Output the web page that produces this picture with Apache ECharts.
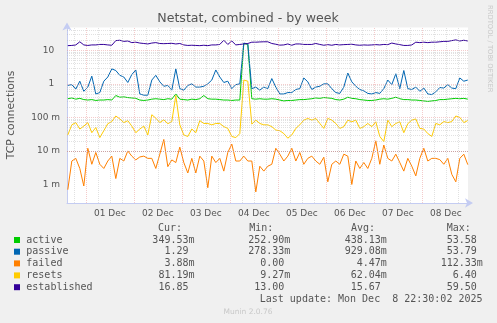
<!DOCTYPE html>
<html>
<head>
<meta charset="utf-8">
<script src="https://cdn.jsdelivr.net/npm/echarts@6/dist/echarts.min.js"></script>
<style>html,body{margin:0;padding:0;background:#f0f0f0;}#c{width:497px;height:323px;}</style>
</head>
<body>
<div id="c"></div>
<script>
// time grid: hours since 30 Nov 00:00, one sample every 2 hours
const startHour = 15;
const stepHours = 2;

const active = [0.36,0.38,0.35,0.37,0.34,0.33,0.34,0.32,0.33,0.33,0.34,0.33,0.45,0.4,0.41,0.39,0.38,
  0.37,0.33,0.32,0.33,0.35,0.36,0.35,0.34,0.36,0.35,0.5,0.35,0.34,0.33,0.35,0.34,0.36,
  0.45,0.36,0.35,0.35,0.34,0.33,0.33,0.32,0.33,0.33,16,15,0.36,0.35,0.36,0.35,0.35,
  0.36,0.35,0.33,0.31,0.32,0.32,0.33,0.34,0.34,0.35,0.36,0.38,0.37,0.39,0.38,0.37,
  0.34,0.33,0.35,0.4,0.37,0.36,0.34,0.33,0.32,0.32,0.33,0.35,0.36,0.35,0.37,0.4,0.36,
  0.34,0.34,0.33,0.33,0.32,0.31,0.3,0.31,0.32,0.34,0.34,0.35,0.36,0.37,0.36,0.37,0.35];
const passive = [0.9,0.95,0.7,1.2,0.6,0.8,1.7,0.5,0.55,1.2,1.6,2.8,2.5,1.8,1.6,1.1,1.9,
  2.6,0.5,0.46,0.46,1.3,1.8,1.15,0.85,0.9,0.65,2.8,0.72,0.65,0.9,1.0,0.8,0.8,
  0.85,1.0,1.3,2.6,1.6,1.1,1.2,0.72,0.95,1.0,16.5,15.5,0.72,0.8,0.65,0.8,0.72,
  1.44,0.8,0.5,0.5,0.55,0.55,0.68,0.72,1.5,1.15,0.68,0.8,0.85,1.0,1.0,0.72,
  0.55,0.52,0.8,2.1,1.15,0.85,0.68,0.62,0.52,0.5,0.55,0.52,0.72,1.3,0.95,2.0,0.72,
  2.5,0.72,0.68,0.8,0.6,0.75,0.5,0.48,0.58,0.78,0.75,0.95,0.75,0.72,1.5,1.2,1.3];
const failed = [0.0007,0.005,0.006,0.003,0.0009,0.012,0.004,0.009,0.004,0.003,0.005,0.007,0.0015,0.006,0.005,0.01,0.007,
  0.0054,0.0066,0.007,0.006,0.006,0.003,0.008,0.022,0.0034,0.0054,0.0045,0.013,0.0045,0.0022,0.006,0.0022,0.007,
  0.005,0.0008,0.007,0.0045,0.006,0.0025,0.009,0.016,0.005,0.005,0.007,0.005,0.005,0.0006,0.0035,0.0025,0.0035,
  0.004,0.012,0.008,0.005,0.007,0.012,0.005,0.009,0.004,0.006,0.007,0.005,0.004,0.0065,0.0012,0.004,
  0.005,0.004,0.008,0.007,0.001,0.005,0.003,0.0045,0.003,0.006,0.02,0.004,0.015,0.006,0.005,0.008,0.0045,
  0.0025,0.006,0.0035,0.0018,0.006,0.012,0.005,0.006,0.006,0.0055,0.004,0.006,0.002,0.0012,0.006,0.008,0.0039];
const resets = [0.03,0.06,0.07,0.045,0.055,0.07,0.035,0.05,0.025,0.04,0.065,0.075,0.11,0.09,0.07,0.08,0.055,
  0.035,0.045,0.055,0.03,0.12,0.095,0.07,0.085,0.065,0.075,0.45,0.06,0.03,0.027,0.045,0.035,0.08,
  0.066,0.066,0.06,0.066,0.066,0.053,0.047,0.027,0.025,0.033,1.3,1.2,0.063,0.083,0.066,0.06,0.06,
  0.053,0.042,0.04,0.033,0.024,0.03,0.047,0.06,0.083,0.093,0.083,0.093,0.066,0.047,0.093,0.083,
  0.066,0.047,0.053,0.083,0.074,0.083,0.047,0.053,0.066,0.053,0.074,0.027,0.019,0.083,0.053,0.066,0.074,
  0.035,0.065,0.083,0.09,0.047,0.045,0.033,0.027,0.066,0.06,0.075,0.07,0.075,0.11,0.1,0.07,0.081];
const established = [13.8,14,14.5,18,14.5,14,14.5,14.5,15,15,14.5,14.2,19.5,20,18.5,19,
  17,17.5,16.5,16,15.5,16.5,17,16,15.8,16,16.2,15.5,16,14.5,14,14.2,14,13.8,
  14.2,13.8,14.5,14.5,15,20,15,19,14.5,15,15.5,16,17.5,17.5,17.8,18,18,
  16,15.2,14.3,14.5,15.5,14.2,15.5,15.5,15,15,15,16,15,14.2,14.8,14.2,
  15,14.5,14.8,15,15.2,14.5,14.2,14.5,14.3,14.5,14.8,14.5,15,14.8,16.5,15.5,14.8,
  14,14,14.5,17.5,17,17.5,17,17.5,17.5,18,18.5,18.5,19.5,20.5,19,20,19];

const seriesNames = ['active','passive','failed','resets','established'];
const seriesColors = ['#00cc00','#0066b3','#ff8000','#ffcc00','#330099'];
const seriesData = [active, passive, failed, resets, established];

const dayLabels = ['01 Dec','02 Dec','03 Dec','04 Dec','05 Dec','06 Dec','07 Dec','08 Dec'];
const dayLabelHours = [36,60,84,108,132,156,180,204];
const yTickValues = [0.001,0.01,0.1,1,10];
const yTickLabels = ['1 m','10 m','100 m','1  ','10  '];

const statHeaders = ['Cur:','Min:','Avg:','Max:'];
const statCur = ['349.53m','1.29','3.88m','81.19m','16.85'];
const statMin = ['252.90m','278.33m','0.00','9.27m','13.00'];
const statAvg = ['438.13m','929.08m','4.47m','62.04m','15.67'];
const statMax = ['53.58','53.79','112.33m','6.40','59.50'];
const lastUpdate = 'Last update: Mon Dec  8 22:30:02 2025';

const xMin = 14.6, xMax = 215.1;
const yMin = 0.00028, yMax = 48;

// grid lines
const gridMajor = {color:'rgba(230,140,140,0.45)', width:1, type:[1,1]};
const gridMinor = {color:'rgba(175,175,175,0.38)', width:1, type:[1,1]};
const markData = [];
for (let h = 18; h < xMax; h += 6) {
  markData.push({xAxis: h, lineStyle: (h % 24 === 0) ? gridMajor : gridMinor});
}
for (let d = -4; d <= 1; d++) {
  for (let k = 1; k <= 9; k++) {
    const v = k * Math.pow(10, d);
    if (v > yMin && v < yMax) markData.push({yAxis: v, lineStyle: k === 1 ? gridMajor : gridMinor});
  }
}

const series = [{
  type:'line', data:[], z:1, silent:true,
  markLine:{silent:true, symbol:['none','none'], label:{show:false}, animation:false, data:markData}
}];
seriesData.forEach((arr, s) => {
  series.push({
    name: seriesNames[s], type:'line', z:2, showSymbol:false, silent:true, animation:false,
    lineStyle:{width:1, color:seriesColors[s]}, itemStyle:{color:seriesColors[s]},
    data: arr.map((v, i) => [startHour + i*stepHours, v])
  });
});

const txt = '#555';
const mono = '10px "DejaVu Sans Mono"';
const graphic = [];
graphic.push({type:'text', x:248, y:19, style:{text:'Netstat, combined - by week', font:'12.6px "DejaVu Sans"', fill:txt, align:'center', verticalAlign:'middle'}});
graphic.push({type:'text', x:11, y:115, rotation:Math.PI/2, style:{text:'TCP connections', font:'10.8px "DejaVu Sans"', fill:txt, align:'center', verticalAlign:'middle'}});
graphic.push({type:'text', x:490, y:5, rotation:-Math.PI/2, style:{text:'RRDTOOL / TOBI OETIKER', font:'6.8px "DejaVu Sans"', fill:'#c8c8c8', align:'left', verticalAlign:'middle'}});
const headerX = [158, 249.3, 351, 446.7];
statHeaders.forEach((h, i) => graphic.push({type:'text', x:headerX[i], y:228, style:{text:h, font:mono, fill:txt, align:'left', verticalAlign:'middle'}}));
const rowY = [240, 251.7, 263.4, 275.4, 287.2];
const colRight = [194.5, 290.3, 386.8, 482.8];
const cols = [statCur, statMin, statAvg, statMax];
seriesNames.forEach((n, r) => {
  graphic.push({type:'rect', shape:{x:14, y:rowY[r]-3, width:6, height:6}, style:{fill:seriesColors[r]}});
  graphic.push({type:'text', x:26.3, y:rowY[r], style:{text:n, font:mono, fill:txt, align:'left', verticalAlign:'middle'}});
  cols.forEach((c, k) => {
    let s = c[r];
    if (!s.endsWith('m')) s = s + ' ';
    graphic.push({type:'text', x:colRight[k], y:rowY[r], style:{text:s, font:mono, fill:txt, align:'right', verticalAlign:'middle'}});
  });
});
graphic.push({type:'text', x:482.5, y:299.3, style:{text:lastUpdate, font:mono, fill:txt, align:'right', verticalAlign:'middle'}});
graphic.push({type:'text', x:248, y:312.5, style:{text:'Munin 2.0.76', font:'7.5px "DejaVu Sans"', fill:'#c8c8c8', align:'center', verticalAlign:'middle'}});

const axisCol = '#c4ccf2';
const chart = echarts.init(document.getElementById('c'), null, {renderer:'canvas'});
chart.setOption({
  backgroundColor:'#f0f0f0',
  animation:false,
  grid:{left:67, right:29, top:27.5, bottom:120, show:true, backgroundColor:'#ffffff', borderWidth:0, containLabel:false},
  xAxis:{type:'value', min:xMin, max:xMax,
    axisLine:{show:true, lineStyle:{color:axisCol, width:1}, symbol:['none','arrow'], symbolSize:[7,8], symbolOffset:[0,5]},
    axisTick:{show:false}, splitLine:{show:false},
    axisLabel:{customValues:dayLabelHours, fontSize:9, fontFamily:'DejaVu Sans', color:txt, margin:6,
      formatter:(v) => { const i = dayLabelHours.indexOf(Math.round(v)); return i >= 0 ? dayLabels[i] : ''; }}
  },
  yAxis:{type:'log', logBase:10, min:yMin, max:yMax,
    axisLine:{show:true, onZero:false, lineStyle:{color:axisCol, width:1}, symbol:['none','arrow'], symbolSize:[7,8], symbolOffset:[0,5]},
    axisTick:{show:false}, splitLine:{show:false},
    axisLabel:{fontSize:9, fontFamily:'DejaVu Sans', color:txt, margin:7, showMinLabel:false, showMaxLabel:false,
      formatter:(v) => { for (let i = 0; i < yTickValues.length; i++) { if (Math.abs(Math.log10(v) - Math.log10(yTickValues[i])) < 0.01) return yTickLabels[i]; } return ''; }}
  },
  series: series,
  graphic: graphic
});
</script>
</body>
</html>
